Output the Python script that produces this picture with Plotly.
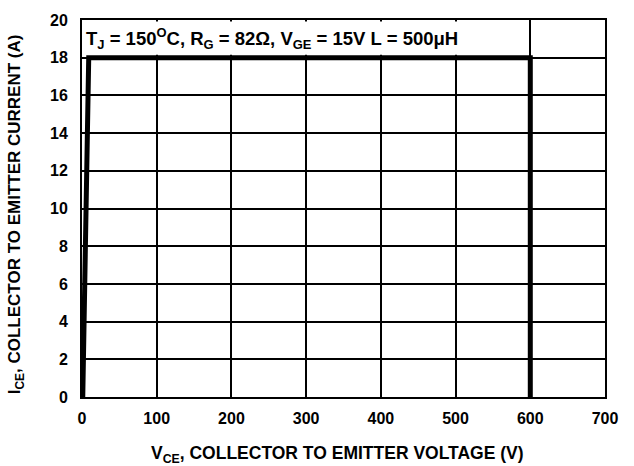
import plotly.graph_objects as go

# Data
vce = [1, 9, 600, 600]          # V
ice = [0, 18, 18, 0]            # A
x_ticks = [0, 100, 200, 300, 400, 500, 600, 700]
y_ticks = [0, 2, 4, 6, 8, 10, 12, 14, 16, 18, 20]

FONT = "Liberation Sans, Arial, sans-serif"
FS = 16

fig = go.Figure()
fig.add_trace(go.Scatter(x=vce, y=ice, mode="lines",
                         line=dict(color="black", width=5),
                         hoverinfo="skip", showlegend=False))

axis_common = dict(showline=True, linecolor="black", linewidth=2, mirror=True,
                   showgrid=True, gridcolor="black", gridwidth=2,
                   zeroline=False, ticks="",
                   tickfont=dict(family=FONT, size=FS, color="black", weight="bold"))

fig.update_xaxes(range=[0, 700], tickvals=x_ticks, ticktext=[str(v) for v in x_ticks],
                 ticklabelstandoff=6, **axis_common)
fig.update_yaxes(range=[0, 20], tickvals=y_ticks, ticktext=[str(v) for v in y_ticks],
                 ticklabelstandoff=9, **axis_common)

# white box for the condition text
fig.add_shape(type="rect", xref="x", yref="y", x0=0.5, x1=596, y0=18.15, y1=19.92,
              fillcolor="white", line=dict(width=0), layer="between")

fig.add_annotation(xref="x", yref="y", x=0, y=19, xanchor="left", yanchor="middle",
                   xshift=2, showarrow=False,
                   text="T<sub>J</sub> = 150<sup>O</sup>C, R<sub>G</sub> = 82Ω, V<sub>GE</sub> = 15V L = 500μH",
                   font=dict(family=FONT, size=18.5, color="black", weight="bold"))

fig.add_annotation(xref="paper", yref="paper", x=0.488, y=-0.152, xanchor="center",
                   yanchor="middle", showarrow=False,
                   text="V<sub>CE</sub>, COLLECTOR TO EMITTER VOLTAGE (V)",
                   font=dict(family=FONT, size=17.5, color="black", weight="bold"))

fig.add_annotation(xref="paper", yref="paper", x=-0.126, y=0.485, xanchor="center",
                   yanchor="middle", showarrow=False, textangle=-90,
                   text="I<sub>CE</sub>, COLLECTOR TO EMITTER CURRENT (A)",
                   font=dict(family=FONT, size=17, color="black", weight="bold"))

fig.update_layout(width=634, height=466, margin=dict(l=82, r=29, t=15, b=69),
                  plot_bgcolor="white", paper_bgcolor="white")

fig.write_html("out.html", config={"displayModeBar": False},
               post_script="document.body.style.margin='0';document.body.style.overflow='hidden';")
